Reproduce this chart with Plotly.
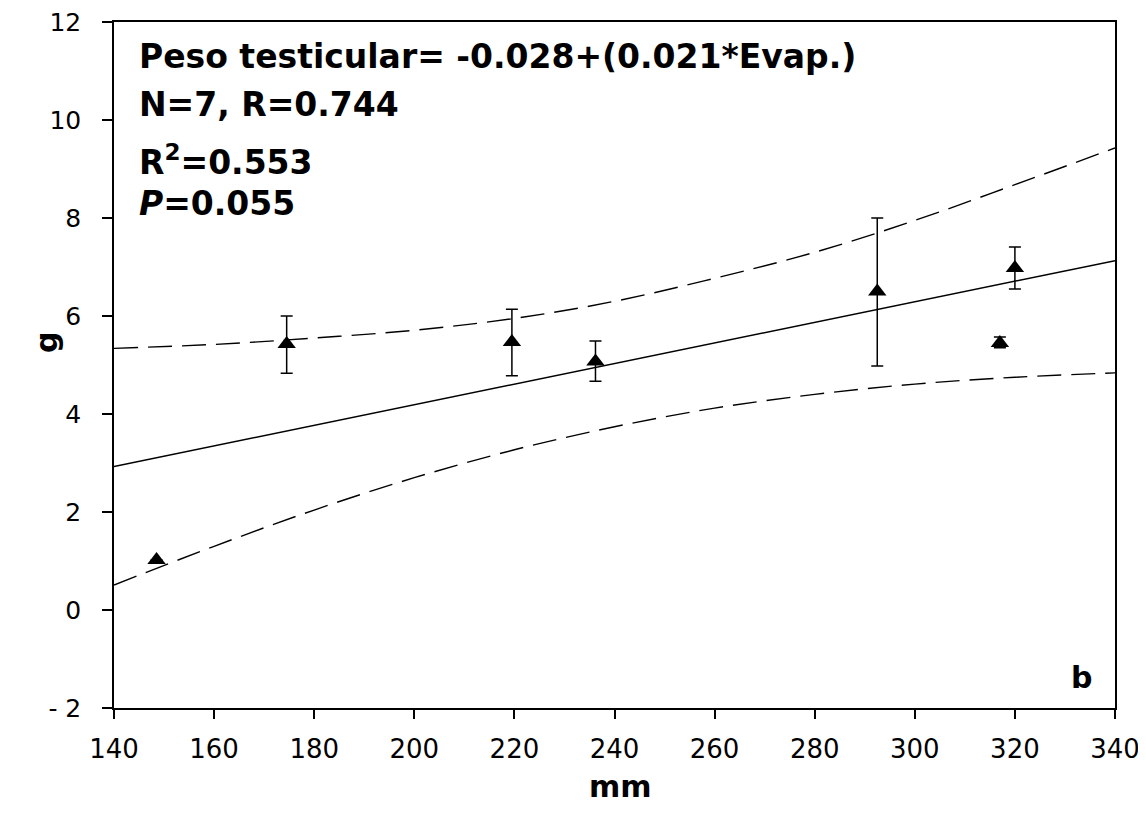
import plotly.graph_objects as go

# Data
pts_x = [148.5, 174.5, 219.5, 236.2, 292.5, 317.0, 320.0]
pts_y = [1.02, 5.43, 5.47, 5.07, 6.50, 5.45, 6.98]
err_plus = [0.0, 0.57, 0.67, 0.42, 1.50, 0.12, 0.43]
err_minus = [0.0, 0.60, 0.69, 0.40, 1.52, 0.10, 0.43]

fit_x = [140, 340]
fit_y = [2.93, 7.13]

band_x = [140, 160, 180, 200, 220, 240, 260, 280, 300, 320, 340]
upper_y = [5.34, 5.42, 5.55, 5.71, 5.95, 6.30, 6.77, 7.30, 7.95, 8.68, 9.43]
lower_y = [0.51, 1.30, 2.04, 2.70, 3.27, 3.74, 4.12, 4.40, 4.61, 4.75, 4.84]

x_ticks = [140, 160, 180, 200, 220, 240, 260, 280, 300, 320, 340]
y_ticks = [-2, 0, 2, 4, 6, 8, 10, 12]

FONT = "DejaVu Sans"
dash = "24px,10px"

# page body has an 8px margin; work in screen pixels and offset by it
OFF = 8
W, H = 1146 - OFF, 827 - OFF
L, R, T, B = 114 - OFF, 1115 - OFF, 22 - OFF, 708 - OFF

fig = go.Figure()
fig.add_trace(go.Scatter(x=band_x, y=upper_y, mode="lines",
                         line=dict(color="black", width=1.4, dash=dash, shape="spline"), hoverinfo="skip"))
fig.add_trace(go.Scatter(x=band_x, y=lower_y, mode="lines",
                         line=dict(color="black", width=1.4, dash=dash, shape="spline"), hoverinfo="skip"))
fig.add_trace(go.Scatter(x=fit_x, y=fit_y, mode="lines",
                         line=dict(color="black", width=1.5), hoverinfo="skip"))
fig.add_trace(go.Scatter(
    x=pts_x, y=pts_y, mode="markers",
    marker=dict(symbol="triangle-up", size=16, color="black"),
    error_y=dict(type="data", symmetric=False, array=err_plus, arrayminus=err_minus,
                 color="black", thickness=1.5, width=6),
))

fig.update_layout(
    width=W, height=H,
    paper_bgcolor="white", plot_bgcolor="white",
    showlegend=False,
    margin=dict(l=L, r=W - R, t=T, b=H - B, autoexpand=False),
    font=dict(family=FONT, color="black"),
)
fig.update_xaxes(range=[140, 340], tickvals=x_ticks, ticktext=[str(v) for v in x_ticks],
                 showgrid=False, zeroline=False, showline=True, linecolor="black", linewidth=1.5,
                 mirror=True, ticks="outside", ticklen=9, tickcolor="black", tickwidth=1.5,
                 tickfont=dict(size=26, family=FONT), automargin=False, ticklabelstandoff=8,
                 ticklabeloverflow="allow")
fig.update_yaxes(range=[-2, 12], tickvals=y_ticks, ticktext=[str(v) if v >= 0 else "- 2" for v in y_ticks],
                 showgrid=False, zeroline=False, showline=True, linecolor="black", linewidth=1.5,
                 mirror=True, ticks="outside", ticklen=10, tickcolor="black", tickwidth=1.5,
                 tickfont=dict(size=25, family=FONT), automargin=False, ticklabelstandoff=16,
                 ticklabeloverflow="allow")

def px_to_paper(xs, ys):
    xp, yp = xs - OFF, ys - OFF
    return (xp - L) / (R - L), 1 - (yp - T) / (B - T)

# axis titles
ax, ay = px_to_paper(620, 786)
fig.add_annotation(text="<b>mm</b>", xref="paper", yref="paper", x=ax, y=ay,
                   xanchor="center", yanchor="middle", showarrow=False,
                   font=dict(size=30, family=FONT, color="black"))
gx, gy = px_to_paper(46, 343)
fig.add_annotation(text="<b>g</b>", xref="paper", yref="paper", x=gx, y=gy, textangle=-90,
                   xanchor="center", yanchor="middle", showarrow=False,
                   font=dict(size=30, family=FONT, color="black"))

lines = [
    ("<b>Peso testicular= -0.028+(0.021*Evap.)</b>", 56),
    ("<b>N=7, R=0.744</b>", 105),
    ("<b>R<sup>2</sup>=0.553</b>", 160),
    ("<b><i>P</i>=0.055</b>", 203),
]
for txt, ypx in lines:
    tx, ty = px_to_paper(137, ypx)
    fig.add_annotation(text=txt, xref="paper", yref="paper", x=tx, y=ty,
                       xanchor="left", yanchor="middle", showarrow=False,
                       font=dict(size=33, family=FONT, color="black"))
bx, by = px_to_paper(1081, 677)
fig.add_annotation(text="<b>b</b>", xref="paper", yref="paper", x=bx, y=by,
                   xanchor="center", yanchor="middle", showarrow=False,
                   font=dict(size=30, family=FONT, color="black"))

fig.write_html("out.html")
